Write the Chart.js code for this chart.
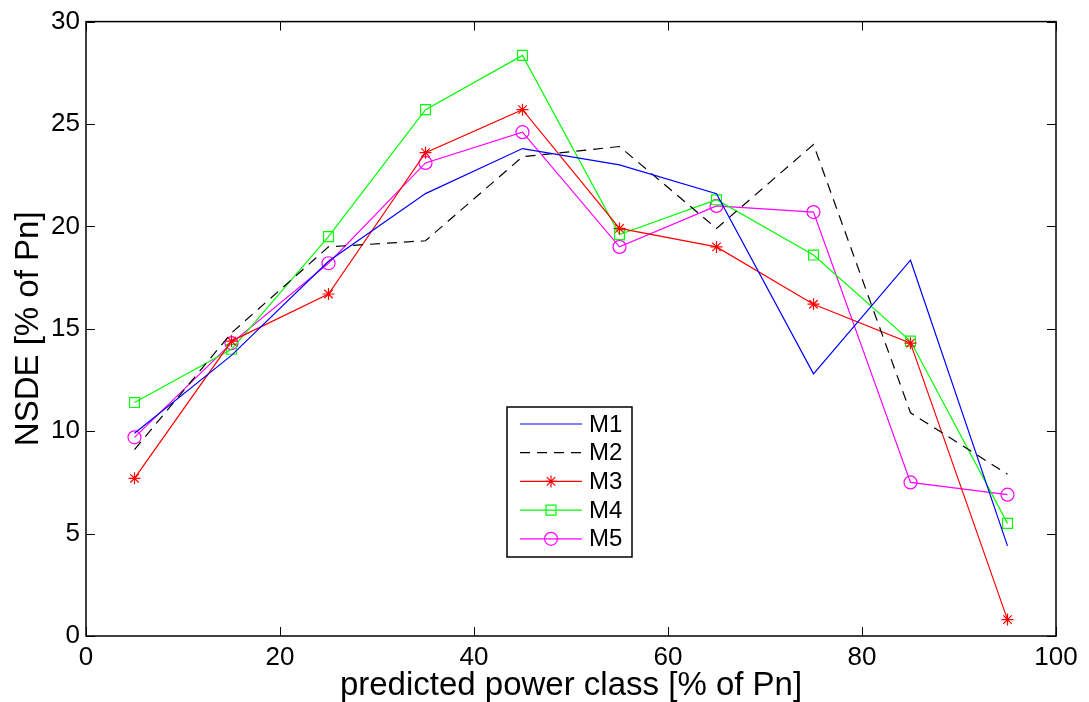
<!DOCTYPE html>
<html>
<head>
<meta charset="utf-8">
<script src="https://cdn.jsdelivr.net/npm/chart.js@4.4.0/dist/chart.umd.min.js"></script>
<style>
  html, body { margin: 0; padding: 0; background: #fff; }
  #wrap { width: 1089px; height: 702px; position: relative; }
</style>
</head>
<body>
<div id="wrap"><canvas id="nsde-chart"></canvas></div>
<script>
// power classes (centre of each 10% bin)
const powerClasses = [5, 15, 25, 35, 45, 55, 65, 75, 85, 95];
const seriesNames = ['M1', 'M2', 'M3', 'M4', 'M5'];
const m1 = [9.9, 13.7, 18.3, 21.6, 23.8, 23.0, 21.6, 12.8, 18.35, 4.4];
const m2 = [9.1, 14.8, 19.0, 19.3, 23.4, 23.9, 19.9, 24.0, 10.9, 7.9];
const m3 = [7.7, 14.4, 16.7, 23.6, 25.7, 19.9, 19.0, 16.2, 14.3, 0.8];
const m4 = [11.4, 14.0, 19.5, 25.7, 28.35, 19.6, 21.3, 18.6, 14.4, 5.5];
const m5 = [9.7, 14.3, 18.2, 23.1, 24.6, 19.0, 21.0, 20.7, 7.5, 6.9];
const xTicks = [0, 20, 40, 60, 80, 100];
const yTicks = [0, 5, 10, 15, 20, 25, 30];

const FONT = "'Liberation Sans', Arial, sans-serif";

function toPoints(values) {
    return values.map(function(v, i) { return { x: powerClasses[i], y: v }; });
}

// matlab-style box with inward ticks on all four sides
const boxPlugin = {
    id: 'box',
    afterDraw: function(chart) {
        const ctx = chart.ctx;
        const a = chart.chartArea;
        const xs = chart.scales.x, ys = chart.scales.y;
        const len = 9;
        ctx.save();
        ctx.strokeStyle = '#000';
        ctx.lineWidth = 1;
        ctx.beginPath();
        xTicks.forEach(function(t) {
            const px = Math.round(xs.getPixelForValue(t)) + 0.5;
            ctx.moveTo(px, a.bottom); ctx.lineTo(px, a.bottom - len);
            ctx.moveTo(px, a.top); ctx.lineTo(px, a.top + len);
        });
        yTicks.forEach(function(t) {
            const py = Math.round(ys.getPixelForValue(t)) + 0.5;
            ctx.moveTo(a.left, py); ctx.lineTo(a.left + len, py);
            ctx.moveTo(a.right, py); ctx.lineTo(a.right - len, py);
        });
        ctx.stroke();
        ctx.lineWidth = 1.5;
        ctx.strokeRect(a.left, a.top, a.right - a.left, a.bottom - a.top);
        ctx.restore();
    }
};

// legend box sitting inside the axes
const legendPlugin = {
    id: 'innerLegend',
    afterDraw: function(chart) {
        const ctx = chart.ctx;
        const bx = 507, by = 407, bw = 125, bh = 150;
        ctx.save();
        ctx.fillStyle = '#fff';
        ctx.fillRect(bx, by, bw, bh);
        ctx.strokeStyle = '#000';
        ctx.lineWidth = 1.5;
        ctx.strokeRect(bx, by, bw, bh);
        chart.data.datasets.forEach(function(ds, i) {
            const y = 424 + i * 28.7;
            ctx.strokeStyle = ds.borderColor;
            ctx.lineWidth = ds.borderWidth;
            ctx.setLineDash(ds.borderDash || []);
            ctx.beginPath();
            ctx.moveTo(520, y);
            ctx.lineTo(582, y);
            ctx.stroke();
            ctx.setLineDash([]);
            if (ds.pointRadius > 0) {
                ctx.fillStyle = 'rgba(0,0,0,0)';
                Chart.helpers.drawPoint(ctx, {
                    pointStyle: ds.pointStyle,
                    radius: ds.pointRadius,
                    borderWidth: ds.borderWidth,
                    rotation: 0
                }, 551, y);
            }
            ctx.fillStyle = '#000';
            ctx.font = '24px ' + FONT;
            ctx.textBaseline = 'middle';
            ctx.textAlign = 'left';
            ctx.fillText(ds.label, 589, y + 1);
        });
        ctx.restore();
    }
};

function line(label, values, color, extra) {
    return Object.assign({
        label: label,
        data: toPoints(values),
        borderColor: color,
        backgroundColor: 'rgba(0,0,0,0)',
        pointBorderColor: color,
        pointBackgroundColor: 'rgba(0,0,0,0)',
        borderWidth: 1.2,
        pointBorderWidth: 1.2,
        pointRadius: 0,
        tension: 0,
        fill: false
    }, extra || {});
}

const ctx = document.getElementById('nsde-chart').getContext('2d');
new Chart(ctx, {
    type: 'line',
    data: {
        datasets: [
            line(seriesNames[0], m1, '#0000ff'),
            line(seriesNames[1], m2, '#000000', { borderDash: [10, 7] }),
            line(seriesNames[2], m3, '#ff0000', { pointStyle: 'star', pointRadius: 6 }),
            line(seriesNames[3], m4, '#00ff00', { pointStyle: 'rect', pointRadius: 7 }),
            line(seriesNames[4], m5, '#ff00ff', { pointStyle: 'circle', pointRadius: 6.5 })
        ]
    },
    options: {
        responsive: true,
        maintainAspectRatio: false,
        animation: false,
        layout: { padding: { left: 0, right: 33, top: 20, bottom: 0 } },
        scales: {
            x: {
                type: 'linear',
                min: 0,
                max: 100,
                afterFit: function(scale) { scale.height = 66; },
                afterBuildTicks: function(scale) {
                    scale.ticks = xTicks.map(function(v) { return { value: v }; });
                },
                grid: { display: false, drawTicks: false },
                border: { display: false },
                ticks: {
                    padding: 6,
                    color: '#000',
                    font: { family: FONT, size: 26 },
                    maxRotation: 0
                },
                title: {
                    display: true,
                    text: 'predicted power class [% of Pn]',
                    color: '#000',
                    font: { family: FONT, size: 33, lineHeight: 1 },
                    padding: { top: 0, bottom: 0 }
                }
            },
            y: {
                type: 'linear',
                min: 0,
                max: 30,
                afterFit: function(scale) { scale.width = 86; },
                afterBuildTicks: function(scale) {
                    scale.ticks = yTicks.map(function(v) { return { value: v }; });
                },
                grid: { display: false, drawTicks: false },
                border: { display: false },
                ticks: {
                    padding: 6,
                    color: '#000',
                    font: { family: FONT, size: 26 }
                },
                title: {
                    display: true,
                    text: 'NSDE [% of Pn]',
                    color: '#000',
                    font: { family: FONT, size: 33, lineHeight: 1 },
                    padding: { top: 12, bottom: 0 }
                }
            }
        },
        plugins: {
            legend: { display: false },
            tooltip: { enabled: false }
        }
    },
    plugins: [boxPlugin, legendPlugin]
});
</script>
</body>
</html>
